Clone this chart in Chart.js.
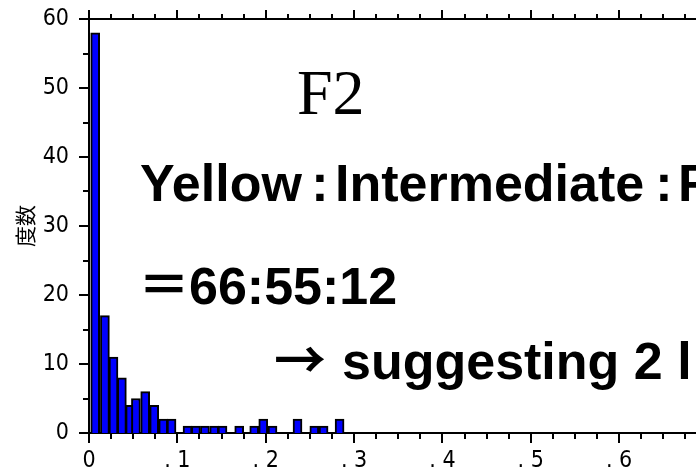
<!DOCTYPE html>
<html>
<head>
<meta charset="utf-8">
<script src="https://cdn.jsdelivr.net/npm/chart.js@4/dist/chart.umd.min.js"></script>
<style>
  html, body { margin: 0; padding: 0; background: #fff; }
  canvas { display: block; }
</style>
</head>
<body>
<canvas id="histChart" width="696" height="474"></canvas>
<script>
// Histogram of F2 values: bin centre (x) and count (y)
const binCenters = [0.0070, 0.0180, 0.0277, 0.0372, 0.0466, 0.0531, 0.0636, 0.0738, 0.0840, 0.0934,
                    0.1115, 0.1210, 0.1312, 0.1417, 0.1511, 0.1700, 0.1870, 0.1972, 0.2077,
                    0.2360, 0.2550, 0.2655, 0.2836];
const counts = [58, 17, 11, 8, 4, 5, 6, 4, 2, 2,
                1, 1, 1, 1, 1, 1, 1, 2, 1,
                2, 1, 1, 2];

// Axis ticks
const xTickValues = [0, 0.1, 0.2, 0.3, 0.4, 0.5, 0.6];
const xTickLabels = ['0', '. 1', '. 2', '. 3', '. 4', '. 5', '. 6'];
const yAxisTitle = '度数';

// Annotation text
const panelTitle = 'F2';
const line1 = ['Yellow', '：', 'Intermediate', '：', 'F'];
const line2 = ['＝', '66:55:12'];
const line3 = ['→', 'suggesting 2 l'];

const X_MAX = 0.687;
const X_MINOR = 0.025;
const Y_MINOR = 5;

// axis frame (top line + all tick marks) and the big annotation text
const frameAndText = {
    id: 'frameAndText',
    afterDraw(chart) {
        const { ctx, chartArea } = chart;
        const x = chart.scales.x;
        const y = chart.scales.y;
        ctx.save();
        ctx.strokeStyle = '#000';
        ctx.lineWidth = 2;

        // top border
        ctx.beginPath();
        ctx.moveTo(chartArea.left - 1, chartArea.top);
        ctx.lineTo(chartArea.right, chartArea.top);
        ctx.stroke();

        // x ticks, bottom (down) and top (up)
        const nx = Math.floor(X_MAX / X_MINOR + 1e-6);
        for (let i = 0; i <= nx; i++) {
            const px = Math.round(x.getPixelForValue(i * X_MINOR));
            const len = (i % 4 === 0) ? 10 : 6;
            ctx.beginPath();
            ctx.moveTo(px, chartArea.bottom);
            ctx.lineTo(px, chartArea.bottom + len);
            ctx.moveTo(px, chartArea.top);
            ctx.lineTo(px, chartArea.top - len + 1);
            ctx.stroke();
        }

        // y ticks on the left
        for (let v = 0; v <= y.max; v += Y_MINOR) {
            const py = Math.round(y.getPixelForValue(v));
            const len = (v % 10 === 0) ? 10 : 6;
            ctx.beginPath();
            ctx.moveTo(chartArea.left, py);
            ctx.lineTo(chartArea.left - len, py);
            ctx.stroke();
        }

        // text
        ctx.fillStyle = '#000';
        ctx.textBaseline = 'alphabetic';
        ctx.textAlign = 'left';

        ctx.font = '64px "Liberation Serif", "Times New Roman", serif';
        ctx.fillText(panelTitle, 297, 114);

        const bold = 'bold 52px "Liberation Sans", Arial, sans-serif';
        ctx.font = bold;
        ctx.fillText(line1[0], 140, 201);
        ctx.textAlign = 'center';
        ctx.fillText(':', 320, 201);
        ctx.textAlign = 'left';
        ctx.fillText(line1[2], 335, 201);
        ctx.textAlign = 'center';
        ctx.fillText(':', 664, 201);
        ctx.textAlign = 'left';
        ctx.fillText(line1[4], 678, 201);

        ctx.font = 'bold 52px "Noto Sans CJK JP", sans-serif';
        ctx.fillText(line2[0], 138, 304);
        ctx.font = bold;
        ctx.fillText(line2[1], 189, 304);

        ctx.font = 'bold 52px "Noto Sans CJK JP", sans-serif';
        ctx.fillText(line3[0], 274, 379);
        ctx.font = bold;
        ctx.fillText(line3[1], 342, 379);

        ctx.restore();
    }
};

const tickFont = { family: '"Liberation Sans Narrow", "DejaVu Sans Condensed", sans-serif', size: 23 };

new Chart(document.getElementById('histChart'), {
    type: 'bar',
    data: {
        datasets: [{
            data: binCenters.map((c, i) => ({ x: c, y: counts[i] })),
            backgroundColor: '#0000ff',
            borderColor: '#000000',
            borderWidth: 2,
            barThickness: 9
        }]
    },
    options: {
        responsive: false,
        animation: false,
        layout: { padding: { top: 19, left: 0, right: 0, bottom: 0 } },
        plugins: {
            legend: { display: false },
            tooltip: { enabled: false }
        },
        scales: {
            x: {
                type: 'linear',
                offset: false,
                min: 0,
                max: X_MAX,
                grid: { display: false, drawTicks: false, offset: false },
                border: { display: true, color: '#000', width: 2 },
                ticks: {
                    stepSize: 0.1,
                    includeBounds: false,
                    autoSkip: false,
                    maxRotation: 0,
                    padding: 14,
                    color: '#000',
                    font: tickFont,
                    callback: (value) => {
                        const idx = xTickValues.findIndex(t => Math.abs(t - value) < 1e-6);
                        return idx >= 0 ? xTickLabels[idx] : '';
                    }
                },
                afterFit: (scale) => {
                    scale.height = 41;
                    scale.paddingLeft = 0;
                    scale.paddingRight = 0;
                }
            },
            y: {
                min: 0,
                max: 60,
                grid: { display: false, drawTicks: false },
                border: { display: true, color: '#000', width: 2 },
                ticks: {
                    stepSize: 10,
                    padding: 20,
                    color: '#000',
                    font: tickFont
                },
                title: {
                    display: true,
                    text: yAxisTitle,
                    color: '#000',
                    font: { family: '"Noto Sans CJK JP", sans-serif', size: 21 },
                    padding: { top: 12, bottom: 0 }
                },
                afterFit: (scale) => {
                    scale.width = 89;
                    scale.paddingTop = 0;
                    scale.paddingBottom = 0;
                }
            }
        }
    },
    plugins: [frameAndText]
});
</script>
</body>
</html>
